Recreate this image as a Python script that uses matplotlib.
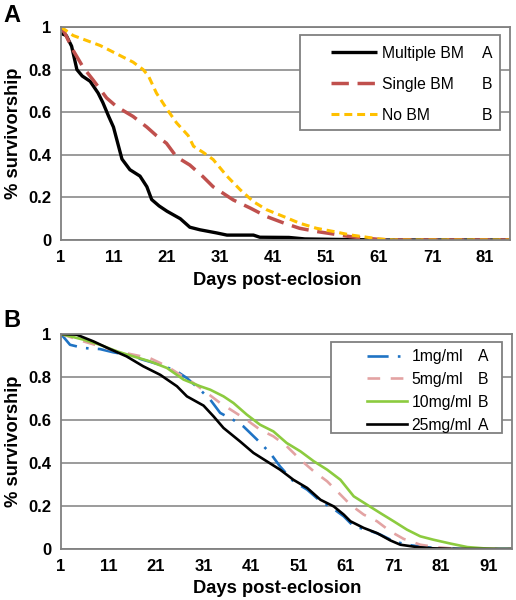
import matplotlib
matplotlib.use("Agg")
import matplotlib.pyplot as plt
import matplotlib.patches as mpatches

plt.rcParams["font.family"] = ["Liberation Sans", "DejaVu Sans"]

# ── Panel A : mating history ──────────────────────────────────────
days_multi = [1, 2, 3, 4, 5, 6.5, 8, 8.9, 10, 10.9, 12.5, 14, 15.9, 17.2, 18.1, 19.5, 21,
              23.5, 25.3, 27.2, 30.4, 32.3, 37.3, 38.5, 44, 47, 52.4, 58.7, 60.5, 86]
surv_multi = [0.97, 0.96, 0.91, 0.80, 0.77, 0.745, 0.69, 0.645, 0.58, 0.53, 0.38, 0.33, 0.30,
              0.25, 0.19, 0.16, 0.135, 0.10, 0.06, 0.048, 0.033, 0.023, 0.023, 0.013, 0.012,
              0.005, 0.003, 0.001, 0, 0]

days_single = [1, 1.75, 3.3, 5.2, 7.1, 9.6, 11.5, 14.6, 17.2, 19, 20.9, 22.8, 25.3, 27.8, 29.7,
               33.5, 36.7, 39.8, 43, 46, 49.2, 52.4, 55.5, 58.7, 61, 63, 86]
surv_single = [1.0, 0.97, 0.89, 0.81, 0.75, 0.667, 0.626, 0.58, 0.53, 0.49, 0.454, 0.39, 0.352,
               0.297, 0.25, 0.188, 0.15, 0.11, 0.08, 0.055, 0.04, 0.028, 0.016, 0.008, 0.003, 0, 0]

days_none = [1, 3.3, 5.8, 8.4, 11.5, 14.6, 16.5, 17.5, 19, 21, 22.8, 25, 26, 27.9, 29.7, 32.3,
             34.8, 37.3, 39.8, 43, 46, 49.2, 52.4, 55.5, 58.7, 61, 63.7, 86]
surv_none = [1.0, 0.96, 0.937, 0.913, 0.874, 0.835, 0.80, 0.77, 0.69, 0.614, 0.55, 0.49, 0.44,
             0.41, 0.378, 0.30, 0.236, 0.18, 0.142, 0.11, 0.079, 0.055, 0.04, 0.024, 0.013,
             0.005, 0, 0]

labels_a  = ["Multiple BM", "Single BM", "No BM"]
letters_a = ["A", "B", "B"]

# ── Panel B : dose ────────────────────────────────────────────────
days_1mg = [1, 2.9, 5.7, 9.2, 12, 14.8, 18.3, 21.9, 25.4, 27.5, 30.3, 32.4, 34.5, 37.3, 39.4,
            42.2, 45, 47.1, 49.9, 52.8, 55.6, 58.4, 60.5, 62.6, 65.4, 68.2, 71, 73.8, 77.3,
            80.8, 85, 96]
surv_1mg = [1, 0.95, 0.935, 0.93, 0.915, 0.904, 0.88, 0.857, 0.826, 0.795, 0.74, 0.695, 0.633,
            0.60, 0.57, 0.51, 0.447, 0.384, 0.315, 0.276, 0.222, 0.186, 0.152, 0.105, 0.09,
            0.067, 0.036, 0.02, 0.009, 0.003, 0, 0]

days_5mg = [1, 5.7, 9.2, 12.7, 16.2, 19.7, 23.3, 26.1, 28.9, 31.7, 34.5, 37.3, 40.1, 42.9,
            45.7, 48.5, 51.4, 54.2, 57, 59.8, 61.9, 64.7, 67.5, 70.3, 73.1, 76.6, 80.1, 83.7,
            87.9, 96]
surv_5mg = [1, 0.966, 0.943, 0.92, 0.904, 0.888, 0.85, 0.81, 0.772, 0.726, 0.679, 0.64, 0.60,
            0.555, 0.524, 0.478, 0.415, 0.361, 0.315, 0.253, 0.206, 0.16, 0.129, 0.082, 0.047,
            0.02, 0.008, 0.002, 0, 0]

days_10mg = [1, 5.7, 9.2, 12.7, 16.2, 19.7, 23.3, 26.8, 30.3, 32.4, 35.2, 37.3, 40.1, 42.9,
             45.7, 48.5, 51.4, 54.2, 57, 59.8, 62.6, 65.4, 68.2, 71, 73.8, 76.6, 79.4, 83,
             86.5, 90, 93.5, 96]
surv_10mg = [1, 0.974, 0.95, 0.92, 0.896, 0.873, 0.842, 0.788, 0.757, 0.741, 0.71, 0.679,
             0.625, 0.578, 0.547, 0.493, 0.454, 0.408, 0.369, 0.322, 0.245, 0.206, 0.167,
             0.129, 0.09, 0.059, 0.043, 0.025, 0.009, 0.003, 0, 0]

days_25mg = [1, 4.3, 7.8, 11.3, 14.8, 18.3, 21.9, 25.4, 27.5, 31, 33.1, 35.2, 38.7, 41.5,
             44.3, 47.1, 49.9, 52.8, 55.6, 58.4, 60.5, 61.9, 64.7, 67.5, 70.3, 72.4, 75.9,
             79.4, 83, 86.5, 96]
surv_25mg = [1, 0.997, 0.966, 0.93, 0.896, 0.85, 0.81, 0.757, 0.71, 0.667, 0.617, 0.563, 0.50,
             0.447, 0.408, 0.369, 0.322, 0.284, 0.229, 0.198, 0.16, 0.129, 0.098, 0.074, 0.04,
             0.02, 0.009, 0.003, 0.001, 0, 0]

labels_b  = ["1mg/ml", "5mg/ml", "10mg/ml", "25mg/ml"]
letters_b = ["A", "B", "B", "A"]

xticks_a = [1, 11, 21, 31, 41, 51, 61, 71, 81]
xticks_b = [1, 11, 21, 31, 41, 51, 61, 71, 81, 91]
yticks   = [0, 0.2, 0.4, 0.6, 0.8, 1]
ytick_labels = ["0", "0.2", "0.4", "0.6", "0.8", "1"]

FRAME = "#808080"

fig = plt.figure(figsize=(5.16, 6.0), dpi=100)
ax_a = fig.add_axes([0.1182, 0.600, 0.8702, 0.355])
ax_b = fig.add_axes([0.1182, 0.085, 0.8740, 0.3583])


def style_axes(ax, xticks, xmax):
    ax.set_xlim(1, xmax)
    ax.set_ylim(0, 1)
    ax.set_xticks(xticks)
    ax.set_yticks(yticks)
    ax.set_yticklabels(ytick_labels)
    ax.tick_params(length=0, labelsize=12)
    ax.tick_params(axis="x", pad=7)
    ax.tick_params(axis="y", pad=7)
    for lbl in ax.get_xticklabels() + ax.get_yticklabels():
        lbl.set_fontweight("bold")
    ax.yaxis.grid(True, color=FRAME, lw=1.1)
    ax.set_axisbelow(True)
    for sp in ax.spines.values():
        sp.set_color(FRAME)
        sp.set_linewidth(1.3)
    ax.set_ylabel("% survivorship", fontsize=13.2, fontweight="bold")
    ax.set_xlabel("Days post-eclosion", fontsize=13.2, fontweight="bold", va="top")


style_axes(ax_a, xticks_a, 85.7)
style_axes(ax_b, xticks_b, 95.9)
ax_a.yaxis.set_label_coords(-0.086, 0.5)
ax_b.yaxis.set_label_coords(-0.086, 0.5)
ax_a.xaxis.set_label_coords(0.481, -0.148)
ax_b.xaxis.set_label_coords(0.479, -0.143)

# Courbes A
h_a = []
h_a += ax_a.plot(days_multi, surv_multi, color="black", lw=2.4, solid_capstyle="butt")
h_a += ax_a.plot(days_single, surv_single, color="#C0504D", lw=2.5, dashes=(5, 2.5))
h_a += ax_a.plot(days_none, surv_none, color="#FFC000", lw=2.2, dashes=(2.6, 1.6))

# Courbes B
h_b = []
h_b += ax_b.plot(days_1mg, surv_1mg, color="#1F73C4", lw=1.9, dashes=(8, 3.5, 1, 3.5))
h_b += ax_b.plot(days_5mg, surv_5mg, color="#E3A3A3", lw=1.9, dashes=(4.8, 4))
h_b += ax_b.plot(days_10mg, surv_10mg, color="#8CCB3F", lw=1.9)
h_b += ax_b.plot(days_25mg, surv_25mg, color="black", lw=1.9)


def add_legend(ax, handles, labels, letters, box, anchor, spacing, hlen, letter_x):
    x0, y0, x1, y1 = box
    ax.add_patch(mpatches.Rectangle((x0, y0), x1 - x0, y1 - y0, transform=ax.transAxes,
                                    facecolor="white", edgecolor=FRAME, lw=1.3,
                                    zorder=3, clip_on=False))
    leg = ax.legend(handles, labels, loc="upper left", bbox_to_anchor=anchor,
                    frameon=False, fontsize=11.3, labelspacing=spacing,
                    handlelength=hlen, handletextpad=0.3, borderpad=0, borderaxespad=0)
    leg.set_zorder(4)
    fig.canvas.draw()
    inv = ax.transAxes.inverted()
    for txt, letter in zip(leg.get_texts(), letters):
        bb = txt.get_window_extent()
        yc = inv.transform(((bb.x0 + bb.x1) / 2, (bb.y0 + bb.y1) / 2))[1]
        ax.text(letter_x, yc, letter, transform=ax.transAxes, fontsize=11.3,
                ha="center", va="center", zorder=5)


add_legend(ax_a, h_a, labels_a, letters_a, (0.532, 0.516, 0.978, 0.962),
           (0.602, 0.912), 1.02, 2.9, 0.949)
add_legend(ax_b, h_b, labels_b, letters_b, (0.599, 0.540, 0.978, 0.963),
           (0.678, 0.930), 0.5, 2.55, 0.936)

fig.text(3 / 516, 1 - 22 / 600, "A", fontsize=17, fontweight="bold")
fig.text(3 / 516, 1 - 327 / 600, "B", fontsize=17, fontweight="bold")

fig.savefig("out.png", dpi=100)
